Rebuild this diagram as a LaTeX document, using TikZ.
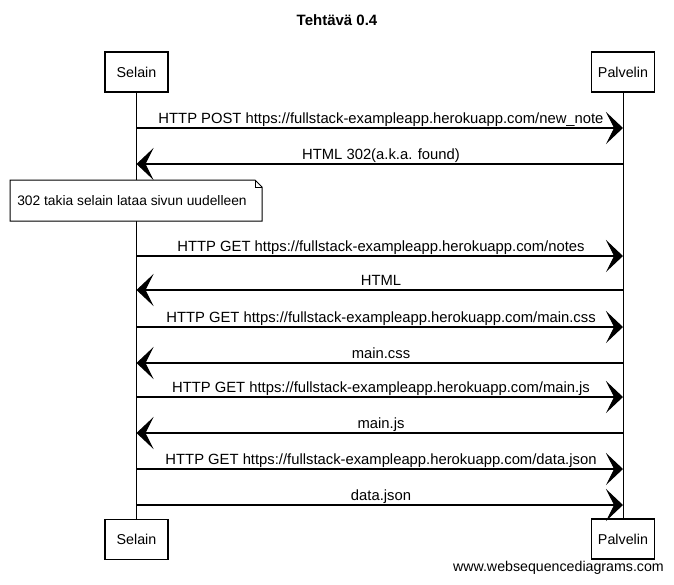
\documentclass[tikz,border=0pt]{standalone}
\usepackage{fontspec}
\setmainfont{Liberation Sans}
\usetikzlibrary{arrows.meta}
\begin{document}
\begin{tikzpicture}[x=1pt,y=-1pt,
  actor/.style={draw,line width=1.1pt,minimum width=63pt,minimum height=40pt,inner sep=0pt,font=\fontsize{14.3}{16}\selectfont},
  life/.style={line width=0.9pt},
  msg/.style={line width=1.1pt,-{Stealth[length=17pt,width=32pt,inset=8pt]}},
  lbl/.style={anchor=base,font=\fontsize{14.8}{17}\selectfont,inner sep=0pt},
  notebox/.style={draw,line width=1pt,fill=white}]
\useasboundingbox (0,0) rectangle (674,584);
\node[font=\bfseries\fontsize{15}{17}\selectfont] (title) at (337,20) {Tehtävä 0.4};
\node[actor] (sT) at (136.5,72) {Selain};
\node[actor] (pT) at (623,72) {Palvelin};
\node[actor] (sB) at (136.5,539.5) {Selain};
\node[actor] (pB) at (623,539) {Palvelin};
\draw[life] (sT.south) -- (sB.north);
\draw[life] (pT.south) -- (pB.north);
% message endpoints
\foreach \i/\y in {1/128,2/164,3/256,4/290,5/327,6/363,7/397,8/433,9/469,10/505}{
  \coordinate (s\i) at (136.5,\y);
  \coordinate (p\i) at (623,\y);
}
\draw[msg] (s1) -- (p1);
\node[lbl] (l1) at (381,123) {HTTP POST https://fullstack-exampleapp.herokuapp.com/new\_note};
\draw[msg] (p2) -- (s2);
\node[lbl] (l2) at (381,159) {HTML 302(a.k.a. found)};
% note
\path[notebox] (10,180) -- (255,180) -- (262,187) -- (262,221) -- (10,221) -- cycle;
\draw[line width=0.8pt] (255,180) -- (255,187) -- (262,187);
\node[font=\fontsize{13.8}{16}\selectfont,inner sep=0pt] (note) at (132,201) {302 takia selain lataa sivun uudelleen};
\draw[msg] (s3) -- (p3);
\node[lbl] (l3) at (381,251) {HTTP GET https://fullstack-exampleapp.herokuapp.com/notes};
\draw[msg] (p4) -- (s4);
\node[lbl] (l4) at (381,285) {HTML};
\draw[msg] (s5) -- (p5);
\node[lbl] (l5) at (381,322) {HTTP GET https://fullstack-exampleapp.herokuapp.com/main.css};
\draw[msg] (p6) -- (s6);
\node[lbl] (l6) at (381,358) {main.css};
\draw[msg] (s7) -- (p7);
\node[lbl] (l7) at (381,392) {HTTP GET https://fullstack-exampleapp.herokuapp.com/main.js};
\draw[msg] (p8) -- (s8);
\node[lbl] (l8) at (381,428) {main.js};
\draw[msg] (s9) -- (p9);
\node[lbl] (l9) at (381,464) {HTTP GET https://fullstack-exampleapp.herokuapp.com/data.json};
\draw[msg] (s10) -- (p10);
\node[lbl] (l10) at (381,500) {data.json};
\node[font=\fontsize{14.2}{16}\selectfont,anchor=east,inner sep=0pt] (wm) at (664,568) {www.websequencediagrams.com};
\end{tikzpicture}
\end{document}
